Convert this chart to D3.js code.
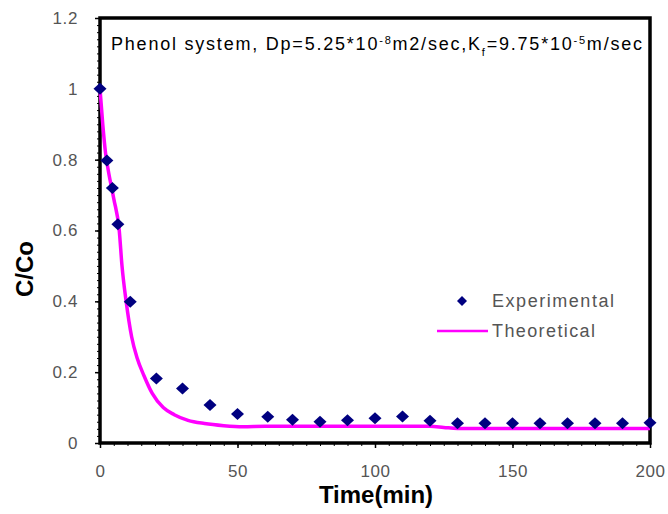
<!DOCTYPE html>
<html>
<head>
<meta charset="utf-8">
<script src="https://cdn.jsdelivr.net/npm/d3@7"></script>
<style>
  body { margin: 0; background: #fff; }
  svg { font-family: Arial, "Liberation Sans", sans-serif; }
</style>
</head>
<body>
<svg id="chart" width="668" height="514"></svg>
<script>
// experimental points
var expTime = [0, 2.5, 4.5, 6.5, 11, 20.5, 30, 40, 50, 61, 70, 80, 90, 100, 110, 120, 130, 140, 150, 160, 170, 180, 190, 200];
var expC = [1.0, 0.798, 0.72, 0.618, 0.399, 0.182, 0.154, 0.107, 0.082, 0.074, 0.066, 0.06, 0.064, 0.07, 0.075, 0.063, 0.056, 0.056, 0.056, 0.056, 0.056, 0.056, 0.056, 0.057];

// theoretical curve
var thTime = [0, 1, 2, 3, 5, 7, 8, 9.5, 11.5, 13.5, 16, 19, 23, 27, 32, 38, 45, 52, 60, 80, 100, 120, 125, 130, 150, 200];
var thC = [1.0, 0.9, 0.82, 0.77, 0.69, 0.6, 0.5, 0.4, 0.3, 0.24, 0.19, 0.14, 0.1, 0.08, 0.064, 0.055, 0.049, 0.046, 0.047, 0.047, 0.047, 0.047, 0.044, 0.041, 0.041, 0.041];

var xTicks = [0, 50, 100, 150, 200];
var yTicks = [0, 0.2, 0.4, 0.6, 0.8, 1, 1.2];

var svg = d3.select("#chart"),
    margin = {top: 18, right: 18, bottom: 71, left: 100},
    width = +svg.attr("width") - margin.left - margin.right,
    height = +svg.attr("height") - margin.top - margin.bottom;

var x = d3.scaleLinear().domain([0, 200]).range([0, width]);
var y = d3.scaleLinear().domain([0, 1.2]).range([height, 0]);

var g = svg.append("g")
    .attr("transform", "translate(" + margin.left + "," + margin.top + ")");

// minor ticks
g.append("g")
    .attr("transform", "translate(0," + height + ")")
    .call(d3.axisBottom(x).tickValues(d3.range(0, 201, 5)).tickSize(3).tickFormat(""))
    .call(function(a) { a.select(".domain").remove(); });
g.append("g")
    .call(d3.axisLeft(y).tickValues(d3.range(0, 1.201, 0.02)).tickSize(3).tickFormat(""))
    .call(function(a) { a.select(".domain").remove(); });

// major axes
var xAxis = g.append("g")
    .attr("transform", "translate(0," + height + ")")
    .call(d3.axisBottom(x).tickValues(xTicks).tickSize(5).tickPadding(17).tickFormat(d3.format("d")));
var yAxis = g.append("g")
    .call(d3.axisLeft(y).tickValues(yTicks).tickSize(5).tickPadding(17).tickFormat(function(d) { return d; }));

[xAxis, yAxis].forEach(function(a) {
  a.select(".domain").remove();
  a.selectAll(".tick line").attr("stroke", "#000").attr("stroke-width", 1.5);
  a.selectAll(".tick text").attr("fill", "#555").style("font-size", "17px").style("letter-spacing", "0.6px");
});

// frame
g.append("rect")
    .attr("x", 0).attr("y", 0)
    .attr("width", width).attr("height", height)
    .attr("fill", "none")
    .attr("stroke", "#000")
    .attr("stroke-width", 3.5);

// theoretical line
var line = d3.line()
    .x(function(d) { return x(d[0]); })
    .y(function(d) { return y(d[1]); })
    .curve(d3.curveMonotoneX);

g.append("path")
    .datum(d3.zip(thTime, thC))
    .attr("fill", "none")
    .attr("stroke", "#ff00ff")
    .attr("stroke-width", 3.5)
    .attr("d", line);

// experimental points
var diamond = "M0,-6L6.5,0L0,6L-6.5,0Z";
g.selectAll(".pt")
  .data(d3.zip(expTime, expC))
  .enter().append("path")
    .attr("class", "pt")
    .attr("d", diamond)
    .attr("fill", "#000080")
    .attr("transform", function(d) { return "translate(" + x(d[0]) + "," + y(d[1]) + ")"; });

// annotation
var note = g.append("text")
    .attr("x", 11).attr("y", 32)
    .attr("fill", "#000")
    .attr("textLength", 531)
    .attr("lengthAdjust", "spacing")
    .style("font-size", "18px");
note.append("tspan").text("Phenol system,  Dp=5.25*10");
note.append("tspan").attr("baseline-shift", "super").style("font-size", "11px").text("-8");
note.append("tspan").text("m2/sec,K");
note.append("tspan").attr("baseline-shift", "sub").style("font-size", "11px").text("f");
note.append("tspan").text("=9.75*10");
note.append("tspan").attr("baseline-shift", "super").style("font-size", "11px").text("-5");
note.append("tspan").text("m/sec");

// legend
var leg = g.append("g").attr("transform", "translate(337,283)");
leg.append("path")
    .attr("d", "M0,-5L5,0L0,5L-5,0Z")
    .attr("fill", "#000080")
    .attr("transform", "translate(25,0)");
leg.append("text")
    .attr("x", 55).attr("y", 0).attr("dy", "0.35em")
    .attr("textLength", 122).attr("lengthAdjust", "spacing")
    .attr("fill", "#555").style("font-size", "18px")
    .text("Experimental");
leg.append("line")
    .attr("x1", 0).attr("x2", 51)
    .attr("y1", 30).attr("y2", 30)
    .attr("stroke", "#ff00ff").attr("stroke-width", 2.5);
leg.append("text")
    .attr("x", 55).attr("y", 30).attr("dy", "0.35em")
    .attr("textLength", 103).attr("lengthAdjust", "spacing")
    .attr("fill", "#555").style("font-size", "18px")
    .text("Theoretical");

// axis titles
svg.append("text")
    .attr("x", 376)
    .attr("y", 503)
    .attr("text-anchor", "middle")
    .style("font-size", "24px")
    .style("font-weight", "bold")
    .text("Time(min)");

svg.append("text")
    .attr("transform", "translate(33,269) rotate(-90)")
    .attr("text-anchor", "middle")
    .style("font-size", "24px")
    .style("font-weight", "bold")
    .text("C/Co");
</script>
</body>
</html>
